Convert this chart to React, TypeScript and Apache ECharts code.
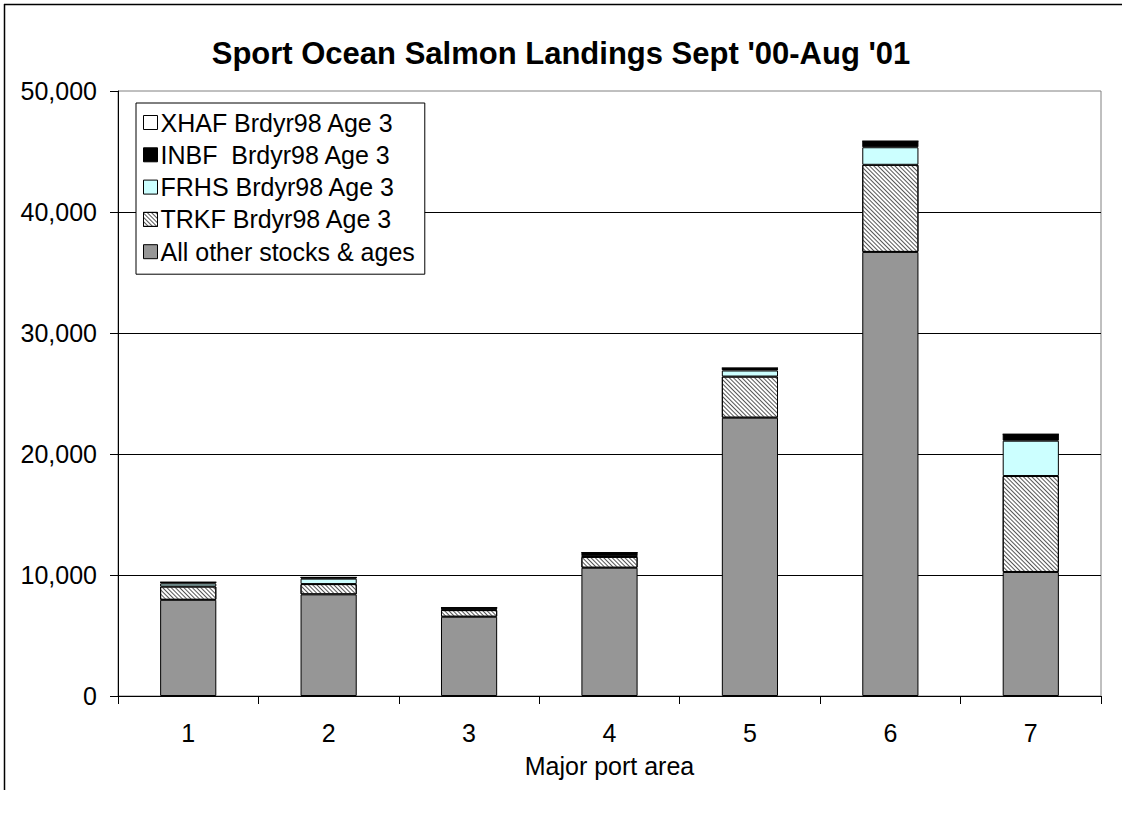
import React, { useEffect, useRef } from "react";
import * as echarts from "echarts";

const categories = ["1", "2", "3", "4", "5", "6", "7"];
const allOther = [7950, 8400, 6550, 10600, 23000, 36700, 10250];
const trkf = [1100, 850, 550, 900, 3400, 7200, 7930];
const frhs = [250, 450, 50, 50, 500, 1450, 2920];
const inbf = [100, 100, 150, 300, 200, 500, 530];
const xhaf = [0, 0, 0, 0, 0, 0, 0];
const yTicks = [0, 10000, 20000, 30000, 40000, 50000];

const names = {
  other: "All other stocks & ages",
  trkf: "TRKF Brdyr98 Age 3",
  frhs: "FRHS Brdyr98 Age 3",
  inbf: "INBF  Brdyr98 Age 3",
  xhaf: "XHAF Brdyr98 Age 3",
};

const FONT = "'Liberation Sans', Arial, sans-serif";

export default function App() {
  const ref = useRef<HTMLDivElement>(null);
  useEffect(() => {
    document.body.style.margin = "0";
    const chart = echarts.init(ref.current!, null, { renderer: "svg" });
    const border = { borderColor: "#000", borderWidth: 1 };
    const mk = (name: string, data: number[], itemStyle: any) => ({
      name,
      type: "bar",
      stack: "total",
      data,
      barCategoryGap: "60%",
      itemStyle: { ...border, ...itemStyle },
      emphasis: { disabled: true },
    });
    chart.setOption({
      animation: false,
      backgroundColor: "#fff",
      textStyle: { fontFamily: FONT, color: "#000" },
      title: {
        text: "Sport Ocean Salmon Landings Sept '00-Aug '01",
        left: "center",
        top: 38,
        padding: 0,
        textStyle: { fontFamily: FONT, fontSize: 31, fontWeight: "bold", color: "#000" },
      },
      legend: {
        orient: "vertical",
        left: 136,
        top: 103,
        padding: [7, 10, 10, 7],
        itemWidth: 14,
        itemHeight: 14,
        itemGap: 7.3,
        backgroundColor: "#fff",
        borderColor: "#000",
        borderWidth: 1,
        borderRadius: 0,
        icon: "rect",
        selectedMode: false,
        data: [names.xhaf, names.inbf, names.frhs, names.trkf, names.other],
        textStyle: { fontFamily: FONT, fontSize: 25, color: "#000", padding: [0, 0, 0, -2], lineHeight: 25 },
        itemStyle: { borderColor: "#000", borderWidth: 1 },
      },
      grid: {
        left: 118,
        right: 21,
        top: 91,
        bottom: 118,
        show: true,
        borderColor: "#808080",
        borderWidth: 1,
        backgroundColor: "transparent",
      },
      xAxis: {
        type: "category",
        data: categories,
        name: "Major port area",
        nameLocation: "middle",
        nameGap: 57,
        nameTextStyle: { fontFamily: FONT, fontSize: 25, color: "#000" },
        axisLine: { lineStyle: { color: "#000", width: 1 } },
        axisTick: { show: true, length: 8, lineStyle: { color: "#000" } },
        axisLabel: { fontFamily: FONT, fontSize: 25, color: "#000", margin: 24 },
        splitLine: { show: false },
      },
      yAxis: {
        type: "value",
        min: yTicks[0],
        max: yTicks[yTicks.length - 1],
        interval: yTicks[1] - yTicks[0],
        axisLine: { show: true, lineStyle: { color: "#000", width: 1 } },
        axisTick: { show: true, length: 8, lineStyle: { color: "#000" } },
        axisLabel: {
          fontFamily: FONT,
          fontSize: 25,
          color: "#000",
          margin: 21,
          formatter: (v: number) => v.toLocaleString("en-US"),
        },
        splitLine: { show: true, showMaxLine: false, lineStyle: { color: "#000", width: 1 } },
      },
      graphic: [
        { type: "line", shape: { x1: 4, y1: 4.5, x2: 1122, y2: 4.5 }, style: { stroke: "#000", lineWidth: 1.5 }, silent: true },
        { type: "line", shape: { x1: 4.5, y1: 4, x2: 4.5, y2: 790 }, style: { stroke: "#000", lineWidth: 1.5 }, silent: true },
      ],
      series: [
        mk(names.other, allOther, { color: "#969696" }),
        mk(names.trkf, trkf, {
          color: "#fff",
          decal: {
            symbol: "rect",
            symbolSize: 1,
            color: "#555",
            dashArrayX: [1, 0],
            dashArrayY: [1, 2],
            rotation: Math.PI / 4,
          },
        }),
        mk(names.frhs, frhs, { color: "#ccffff" }),
        mk(names.inbf, inbf, { color: "#000" }),
        mk(names.xhaf, xhaf, { color: "#fff" }),
      ],
    });
    return () => chart.dispose();
  }, []);
  return <div ref={ref} style={{ width: 1122, height: 814 }} />;
}
